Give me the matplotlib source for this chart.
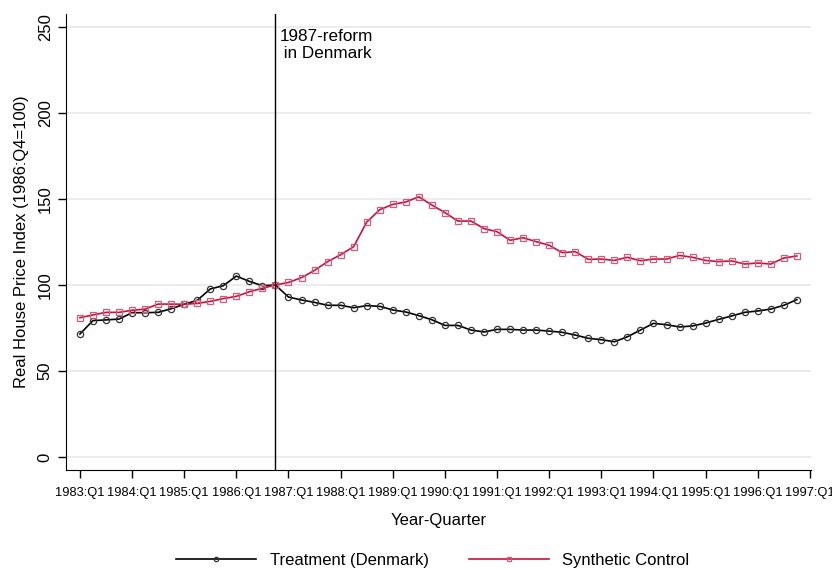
import matplotlib
matplotlib.use('Agg')
from matplotlib import pyplot as plt

plt.rcParams['font.family'] = ['Liberation Sans', 'DejaVu Sans']

years = list(range(1983, 1997))
quarters = [f'{y}:Q{q}' for y in years for q in range(1, 5)]

treatment = [71.5, 79.3, 79.7, 80.2,
             83.9, 83.9, 84.1, 86.2,
             88.8, 91.1, 97.7, 99.6,
             105.2, 102.1, 99.6, 100.0,
             93.0, 91.3, 89.9, 88.2,
             88.2, 86.8, 88.0, 87.6,
             85.5, 84.3, 82.2, 79.8,
             76.5, 76.5, 73.8, 72.7,
             74.2, 74.2, 73.8, 73.8,
             73.2, 72.5, 70.9, 69.0,
             68.2, 67.0, 69.9, 73.8,
             77.7, 76.9, 75.6, 76.2,
             77.9, 80.0, 82.0, 84.1,
             84.9, 86.0, 88.2, 91.5]

synthetic = [81.0, 82.6, 84.1, 84.1,
             85.3, 86.0, 88.9, 88.9,
             88.8, 89.3, 90.5, 92.1,
             93.4, 96.1, 98.1, 100.0,
             101.5, 104.3, 108.5, 113.6,
             117.6, 122.3, 136.6, 143.8,
             146.9, 148.3, 151.3, 146.5,
             142.1, 137.2, 137.2, 132.8,
             131.0, 126.0, 127.5, 125.2,
             123.1, 118.8, 119.4, 114.9,
             115.1, 114.3, 116.1, 114.1,
             115.1, 115.1, 117.2, 116.1,
             114.3, 113.6, 114.0, 112.2,
             112.8, 112.2, 115.7, 116.9]

tick_labels = [f'{y}:Q1' for y in range(1983, 1998)]
reform_quarter = '1986:Q4'

fig = plt.figure(figsize=(8.32, 5.70), dpi=100)
ax = fig.add_axes([0.0793, 0.1754, 0.8957, 0.8])

x = list(range(len(quarters)))
red = '#c8103c'

ax.plot(x, treatment, color='black', lw=1.2, marker='o', ms=4.5,
        mfc='none', mec='#333333', mew=0.9, label='Treatment (Denmark)')
ax.plot(x, synthetic, color=red, lw=1.2, marker='s', ms=4.5,
        mfc='none', mec='#d9587a', mew=0.9, label='Synthetic Control')

rx = quarters.index(reform_quarter)
ax.axvline(rx, color='black', lw=1.0)
ax.text(rx + 0.3, 249, '1987-reform\n in Denmark', fontsize=12.3,
        va='top', ha='left', linespacing=1.15)

ax.set_xlim(-1.07, 56.1)
ax.set_ylim(-7.6, 257.6)
ax.set_xticks([4 * i for i in range(len(tick_labels))])
ax.set_xticklabels(tick_labels, fontsize=9.3)
ax.set_yticks([0, 50, 100, 150, 200, 250])
ax.set_yticklabels(['0', '50', '100', '150', '200', '250'], rotation=90,
                   va='center', fontsize=12)
ax.yaxis.grid(True, color='#ececec', lw=1.3)
ax.set_axisbelow(True)
for s in ['top', 'right']:
    ax.spines[s].set_visible(False)
ax.tick_params(direction='out', length=6, width=1)
ax.tick_params(axis='x', pad=6)

ax.set_xlabel('Year-Quarter', fontsize=12, labelpad=10)
ax.set_ylabel('Real House Price Index (1986:Q4=100)', fontsize=12,
              labelpad=6)

fig.legend(loc='lower center', bbox_to_anchor=(0.52, -0.022), ncol=2,
           frameon=False, fontsize=12, handlelength=4.8, handletextpad=0.8,
           columnspacing=2.4, markerscale=0.7)

fig.savefig('out.png', format='png')
